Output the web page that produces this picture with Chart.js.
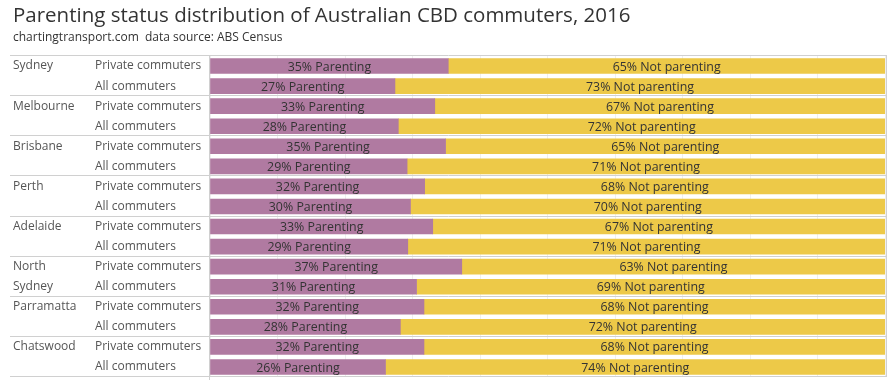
<!DOCTYPE html>
<html><head><meta charset="utf-8">
<script src="https://cdn.jsdelivr.net/npm/chart.js@4/dist/chart.umd.min.js"></script>
<style>html,body{margin:0;padding:0;background:#fff}#wrap{width:890px;height:380px;position:relative}</style>
</head><body><div id="wrap"><canvas id="c" width="890" height="380"></canvas></div>
<script>
const titleText = "Parenting status distribution of Australian CBD commuters, 2016";
const subtitleText = "chartingtransport.com  data source: ABS Census";
const cities = ["Sydney","Melbourne","Brisbane","Perth","Adelaide",["North","Sydney"],"Parramatta","Chatswood"];
const groups = ["Private commuters","All commuters"];
const seriesNames = ["Parenting","Not parenting"];
const parenting =    [0.353,0.274, 0.333,0.279, 0.349,0.292, 0.318,0.297, 0.330,0.293, 0.373,0.306, 0.317,0.282, 0.317,0.260];
const notParenting = [0.647,0.726, 0.667,0.721, 0.651,0.708, 0.682,0.703, 0.670,0.707, 0.627,0.694, 0.683,0.718, 0.683,0.740];
const xTickValues = [0,0.1,0.2,0.3,0.4,0.5,0.6,0.7,0.8,0.9,1];

const FONT = "'Open Sans', 'Noto Sans', sans-serif";
const rowLabels = [];
const cityColumn = [];
cities.forEach(c => {
  groups.forEach((g, gi) => {
    rowLabels.push(g);
    if (Array.isArray(c)) cityColumn.push(c[gi] || "");
    else cityColumn.push(gi === 0 ? c : "");
  });
});

const decor = {
  id: 'decor',
  beforeDatasetsDraw(chart) {
    const {ctx, chartArea: a} = chart;
    ctx.save();
    ctx.strokeStyle = '#d0d0d0';
    ctx.lineWidth = 1;
    const n = rowLabels.length;
    const rowH = (a.bottom - a.top) / n;
    for (let i = 0; i <= n; i += 2) {
      const yy = Math.round(a.top + i * rowH) - 0.5;
      ctx.beginPath(); ctx.moveTo(10, yy); ctx.lineTo(a.right + 2, yy); ctx.stroke();
    }
    ctx.beginPath(); ctx.moveTo(Math.round(a.left) - 0.5, a.top); ctx.lineTo(Math.round(a.left) - 0.5, 380); ctx.stroke();
    ctx.beginPath(); ctx.moveTo(Math.round(a.right) + 1.5, a.top); ctx.lineTo(Math.round(a.right) + 1.5, a.bottom); ctx.stroke();
    ctx.restore();
  },
  afterDatasetsDraw(chart) {
    const {ctx} = chart;
    ctx.save();
    ctx.font = "12.4px " + FONT;
    ctx.fillStyle = '#333';
    ctx.textAlign = 'center';
    ctx.textBaseline = 'middle';
    chart.data.datasets.forEach((ds, di) => {
      chart.getDatasetMeta(di).data.forEach((el, i) => {
        const v = ds.data[i];
        const cx = (el.x + el.base) / 2;
        ctx.fillText(Math.round(v * 100) + "% " + ds.label, cx, el.y + 1);
      });
    });
    ctx.restore();
  }
};

new Chart(document.getElementById('c'), {
  type: 'bar',
  data: {
    labels: rowLabels,
    datasets: [
      {label: seriesNames[0], data: parenting, backgroundColor: '#b07aa1', barThickness: 15, xAxisID: 'x', yAxisID: 'y'},
      {label: seriesNames[1], data: notParenting, backgroundColor: '#edc948', barThickness: 15, xAxisID: 'x', yAxisID: 'y'}
    ]
  },
  plugins: [decor],
  options: {
    indexAxis: 'y',
    responsive: false,
    animation: false,
    layout: {padding: {left: 13, right: 5, top: 0, bottom: 3}},
    plugins: {
      legend: {display: false},
      tooltip: {enabled: false},
      title: {display: true, text: titleText, align: 'start', color: '#333',
        font: {family: FONT, size: 20.5, weight: 'normal', lineHeight: 1.2}, padding: {top: 4, bottom: 1}},
      subtitle: {display: true, text: subtitleText, align: 'start', color: '#333',
        font: {family: FONT, size: 12, weight: 'normal', lineHeight: 1.2}, padding: {top: 1, bottom: 11}}
    },
    scales: {
      x: {stacked: true, min: 0, max: 1, position: 'bottom',
        afterBuildTicks(s) { s.ticks = xTickValues.map(v => ({value: v})); },
        afterFit(s) { s.height = 0; },
        ticks: {display: false}, grid: {color: '#efefef', drawTicks: false}, border: {display: false}},
      y: {stacked: true, position: 'left', weight: 0,
        grid: {display: false}, border: {display: false},
        ticks: {crossAlign: 'far', autoSkip: false, color: '#555', font: {family: FONT, size: 12}, padding: 0},
        afterFit(s) { s.width = 115; s.paddingTop = 0; s.paddingBottom = 0; }},
      yCity: {type: 'category', labels: cityColumn, position: 'left', weight: 1, offset: true,
        grid: {display: false}, border: {display: false},
        ticks: {crossAlign: 'far', autoSkip: false, color: '#555', font: {family: FONT, size: 12}, padding: 0},
        afterFit(s) { s.width = 82; s.paddingTop = 0; s.paddingBottom = 0; }}
    }
  }
});
</script>
</body></html>
